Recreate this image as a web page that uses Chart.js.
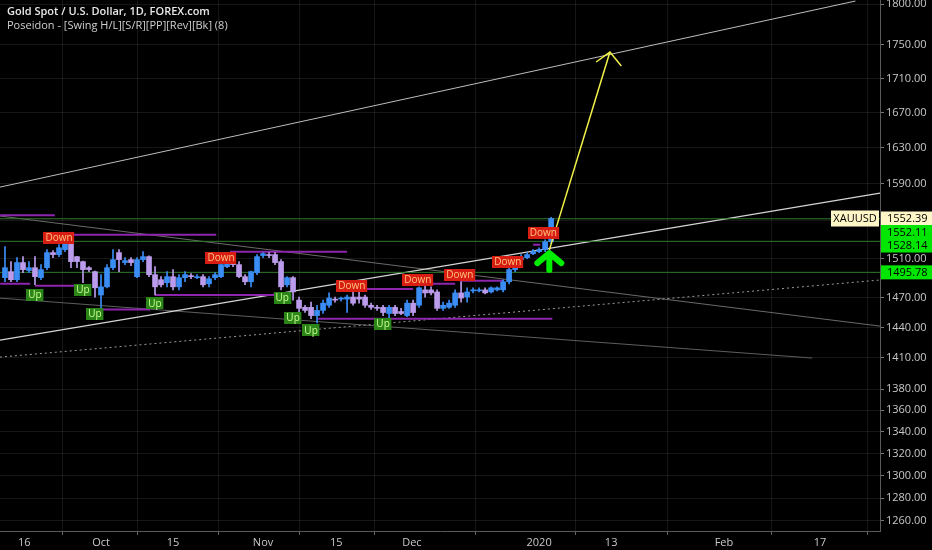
<!DOCTYPE html>
<html>
<head>
<meta charset="utf-8">
<script src="https://cdn.jsdelivr.net/npm/chart.js@4.4.1/dist/chart.umd.min.js"></script>
<style>
html, body { margin: 0; padding: 0; background: #000; }
#wrap { position: relative; width: 932px; height: 550px; }
#title { position: absolute; left: 7px; top: 4px; font-family: 'Open Sans', sans-serif; font-size: 11px; line-height: 14px; color: #e8e8e8; pointer-events: none; }
#title b { font-weight: 600; }
#title span { color: #cfcfcf; }
</style>
</head>
<body>
<div id="wrap">
  <canvas id="chart"></canvas>
  <div id="title"><b>Gold Spot / U.S. Dollar, 1D, FOREX.com</b><br><span>Poseidon - [Swing H/L][S/R][PP][Rev][Bk] (8)</span></div>
</div>
<script>
// daily bars, index 0 = mid Sep 2019, last = 3 Jan 2020
const opens = [1490.3,1496.5,1488.2,1505.9,1497.6,1500.6,1490.3,1500.6,1516.3,1514.2,
  1519.4,1531.9,1512.1,1506.9,1500.6,1496.5,1472.6,1480.9,1500.6,1516.3,
  1505.9,1509.0,1491.3,1509.0,1512.1,1493.4,1488.2,1485.1,1491.3,1480.9,
  1490.3,1492.4,1490.3,1491.3,1484.0,1490.3,1491.3,1501.7,1504.8,1503.8,
  1491.3,1486.1,1495.5,1513.2,1514.2,1514.2,1506.9,1483.0,1490.3,1467.4,
  1460.1,1460.1,1451.8,1457.0,1462.2,1468.4,1468.4,1468.4,1470.5,1470.5,
  1470.5,1462.2,1460.1,1460.1,1453.9,1460.1,1455.9,1451.8,1464.3,1462.2,
  1477.8,1477.8,1475.7,1459.1,1460.1,1462.2,1474.7,1470.5,1476.8,1476.8,
  1477.8,1475.7,1477.8,1477.8,1486.1,1498.6,1509.0,1511.0,1515.2,1517.3,
  1519.4,1527.7];
const highs = [1522.5,1506.9,1511.0,1512.1,1506.9,1512.1,1503.8,1519.4,1518.4,1524.6,
  1532.9,1535.0,1512.5,1507.5,1501.7,1497.0,1493.4,1503.8,1519.4,1519.4,
  1511.0,1511.0,1511.0,1517.3,1513.0,1501.7,1491.3,1496.5,1498.6,1493.4,
  1496.5,1494.4,1493.4,1493.4,1491.3,1495.5,1505.9,1511.0,1506.9,1506.9,
  1493.4,1497.0,1514.2,1516.3,1516.3,1516.3,1509.0,1491.3,1491.3,1470.5,
  1462.2,1465.3,1462.2,1467.4,1474.7,1470.5,1470.5,1472.6,1475.7,1475.7,
  1472.6,1464.3,1462.2,1462.2,1462.2,1462.2,1459.1,1467.4,1467.4,1480.9,
  1483.0,1480.9,1477.8,1465.3,1467.4,1477.8,1486.1,1479.9,1479.9,1479.9,
  1479.9,1480.9,1480.9,1488.2,1500.6,1512.1,1514.2,1516.3,1519.4,1521.4,
  1529.8,1553.6];
const lows = [1486.1,1486.1,1486.1,1495.5,1495.5,1483.0,1488.2,1498.6,1511.0,1512.1,
  1517.3,1500.6,1500.6,1485.1,1496.5,1470.5,1459.1,1479.9,1498.6,1496.5,
  1503.8,1502.8,1490.3,1506.9,1491.3,1472.6,1480.9,1480.9,1477.8,1477.8,
  1486.1,1489.2,1489.2,1480.9,1480.9,1488.2,1490.3,1500.6,1501.7,1490.3,
  1483.0,1480.9,1493.4,1511.0,1511.0,1503.8,1477.8,1480.9,1467.4,1454.9,
  1454.9,1448.7,1444.5,1453.9,1460.1,1465.3,1466.4,1454.9,1462.2,1464.3,
  1460.1,1458.0,1457.0,1451.8,1448.7,1451.8,1452.8,1450.8,1451.8,1460.1,
  1470.5,1472.6,1457.0,1457.0,1459.1,1460.1,1465.3,1465.3,1474.7,1475.7,
  1473.6,1474.7,1476.8,1475.7,1484.0,1496.5,1506.9,1510.0,1514.2,1516.3,
  1517.3,1525.6];
const closes = [1500.6,1488.2,1505.9,1498.6,1500.6,1491.3,1498.6,1516.3,1514.2,1521.4,
  1531.9,1506.9,1506.9,1498.6,1498.6,1479.9,1480.9,1500.6,1509.0,1509.0,
  1507.9,1505.9,1509.0,1512.1,1493.4,1480.9,1483.0,1491.3,1480.9,1490.3,
  1493.4,1491.3,1491.3,1483.0,1489.2,1493.4,1503.8,1505.9,1503.8,1491.3,
  1486.1,1496.5,1512.1,1515.2,1513.2,1505.9,1480.9,1490.3,1475.7,1459.1,
  1457.0,1451.8,1457.0,1464.3,1469.5,1467.4,1469.5,1470.5,1464.3,1468.4,
  1462.2,1460.1,1459.1,1454.9,1460.1,1453.9,1453.9,1464.3,1454.9,1479.9,
  1474.7,1474.7,1459.1,1462.2,1464.3,1474.7,1469.5,1475.7,1477.8,1477.8,
  1474.7,1479.9,1479.9,1486.1,1498.6,1511.0,1511.0,1514.2,1517.3,1519.4,
  1527.7,1552.4];

// axis ticks
const xTickPos = [3.2, 16, 28, 43, 55.2, 67.8, 89, 101, 119.8, 135.8];
const xTickText = ['16', 'Oct', '15', 'Nov', '15', 'Dec', '2020', '13', 'Feb', '17'];
const yTicks = [1260, 1280, 1300, 1320, 1340, 1360, 1380, 1410, 1440, 1470, 1510, 1550, 1590, 1630, 1670, 1710, 1750, 1800];

// drawn trend lines: [barIndex, price] pairs
const channelTop = [[-0.83, 1586.4], [141.7, 1803.7]];
const channelMid = [[-0.83, 1427.4], [145.8, 1579.8]];
const channelLow = [[-0.83, 1410.8], [145.8, 1487.9]];
const fallLine1 = [[-0.83, 1555.0], [145.8, 1441.3]];
const fallLine2 = [[-0.83, 1469.4], [134.5, 1409.9]];
const targetArrow = [[90.7, 1518.9], [100.8, 1741.3]];
const targetHead = [[98.5, 1729.4], [100.8, 1741.3], [102.7, 1724.6]];

// swing levels: [fromIndex, toIndex, price]
const swingLevels = [[-0.8, 8.3, 1555.8], [10, 35.2, 1535.0], [37.5, 57, 1517.3], [-0.8, 4.2, 1484.0],
  [5, 12, 1481.9], [15.8, 24.2, 1458.0], [25, 45.8, 1472.6], [59.2, 68, 1478.8],
  [69.7, 75, 1484.0], [75.8, 83, 1487.2], [52.2, 91.2, 1448.7], [88, 89.2, 1524.6]];
const greenLevels = [1552.11, 1528.14, 1495.78];
const lastPrice = 1552.39;
const symbol = 'XAUUSD';

// signal labels: [barIndex, price]
const upSignals = [[5, 1472.6], [13, 1477.8], [15, 1453.9], [25, 1464.3], [46.2, 1469.5], [48, 1449.7], [51, 1437.2], [63, 1443.5]];
const downSignals = [[9, 1531.9], [36, 1511.0], [57.8, 1481.9], [68.8, 1488.2], [75.8, 1493.4], [83.8, 1506.9], [89.7, 1537.1]];
const breakout = [90.7, 1518.9];

const BLUE = '#3a8df5', PURPLE = '#bb9cec';
const idx = closes.map((_, i) => i);
const candleColors = idx.map(i => closes[i] >= opens[i] ? BLUE : PURPLE);

function pts(arr) { return arr.map(p => ({ x: p[0], y: p[1] })); }
function segs(list) {
  const out = [];
  list.forEach(s => { out.push({ x: s[0], y: s[2] }, { x: s[1], y: s[2] }, { x: s[1], y: null }); });
  return out;
}
function lineDs(data, color, width, order, dash) {
  return { type: 'line', data: data, borderColor: color, borderWidth: width, borderDash: dash || [],
    pointRadius: 0, fill: false, tension: 0, spanGaps: false, order: order };
}
function noPad(s) { s.paddingTop = 0; s.paddingBottom = 0; s.paddingLeft = 0; s.paddingRight = 0; }

const X_MIN = -0.83, X_MAX = 145.8;

const overlay = {
  id: 'overlay',
  beforeDraw(chart) {
    const c = chart.ctx;
    c.save();
    c.fillStyle = '#000';
    c.fillRect(0, 0, chart.width, chart.height);
    c.restore();
  },
  afterDatasetsDraw(chart) {
    const c = chart.ctx, xs = chart.scales.x, ys = chart.scales.y;
    c.save();
    c.font = '10px "Open Sans", sans-serif';
    c.textAlign = 'center';
    c.textBaseline = 'middle';
    const tag = (p, text, bg, fg) => {
      const x = xs.getPixelForValue(p[0]), y = ys.getPixelForValue(p[1]);
      const w = c.measureText(text).width + 4, h = 12;
      c.fillStyle = bg;
      c.fillRect(Math.round(x - w / 2), Math.round(y - h / 2), w, h);
      c.fillStyle = fg;
      c.fillText(text, x, y + 0.5);
    };
    downSignals.forEach(p => tag(p, 'Down', '#d81d14', '#ffc37a'));
    upSignals.forEach(p => tag(p, 'Up', '#2b8519', '#c9ff8e'));

    // breakout arrow
    const ax = xs.getPixelForValue(breakout[0]), ay = ys.getPixelForValue(breakout[1]);
    c.strokeStyle = '#00ee00';
    c.lineWidth = 6;
    c.lineCap = 'round';
    c.lineJoin = 'round';
    c.beginPath();
    c.moveTo(ax - 12, ay + 13);
    c.lineTo(ax, ay + 3);
    c.lineTo(ax + 12, ay + 13);
    c.moveTo(ax, ay + 4);
    c.lineTo(ax, ay + 20);
    c.stroke();
    c.restore();
  },
  afterDraw(chart) {
    const c = chart.ctx, ys = chart.scales.y, area = chart.chartArea;
    c.save();
    c.font = '11px "Open Sans", sans-serif';
    c.textBaseline = 'middle';
    const list = [{ v: lastPrice, bg: '#fff6c8' }].concat(greenLevels.map(v => ({ v: v, bg: '#00e600' })));
    let prev = -100;
    list.forEach((t, k) => {
      let y = Math.max(ys.getPixelForValue(t.v), prev + 13.5);
      prev = y;
      c.fillStyle = t.bg;
      c.fillRect(area.right + 1, y - 7, chart.width - area.right, 14);
      c.fillStyle = '#000';
      c.textAlign = 'left';
      c.fillText(t.v.toFixed(2), area.right + 7, y + 0.5);
      if (k === 0) {
        c.fillStyle = t.bg;
        c.fillRect(area.right - 49, y - 8, 48, 16);
        c.fillStyle = '#000';
        c.textAlign = 'center';
        c.fillText(symbol, area.right - 25, y + 0.5);
      }
    });
    c.restore();
  }
};

const gridColor = 'rgba(255,255,255,0.085)';
const tickFont = { family: "'Open Sans', sans-serif", size: 11 };

new Chart(document.getElementById('chart'), {
  type: 'bar',
  data: {
    datasets: [
      { label: 'body', data: idx.map(i => ({ x: i, y: [opens[i], closes[i]] })), backgroundColor: candleColors,
        barThickness: 5, minBarLength: 1, grouped: false, order: 1 },
      { label: 'wick', data: idx.map(i => ({ x: i, y: [lows[i], highs[i]] })), backgroundColor: candleColors,
        barThickness: 1, grouped: false, order: 2 },
      lineDs(pts(targetArrow), '#f2f24a', 1.5, 0),
      lineDs(pts(targetHead), '#f2f24a', 1.5, 0),
      lineDs(segs(swingLevels), '#8e26ad', 2, 4),
      lineDs(segs(greenLevels.map(v => [X_MIN, X_MAX, v])), '#2f7a2a', 1, 6),
      lineDs(pts(channelTop), '#bdbdbd', 1, 7),
      lineDs(pts(channelMid), '#d6d6d6', 1.2, 7),
      lineDs(pts(channelLow), '#9a9a9a', 1, 7, [2, 3]),
      lineDs(pts(fallLine1), '#6a6a6a', 1, 8),
      lineDs(pts(fallLine2), '#5e5e5e', 1, 8)
    ]
  },
  options: {
    responsive: true,
    maintainAspectRatio: false,
    animation: false,
    layout: { padding: 0 },
    plugins: { legend: { display: false }, tooltip: { enabled: false } },
    scales: {
      x: {
        type: 'linear', min: X_MIN, max: X_MAX, offset: false,
        afterBuildTicks: s => { s.ticks = xTickPos.map(v => ({ value: v })); },
        afterFit: s => { s.height = 19; noPad(s); },
        ticks: { autoSkip: false, maxRotation: 0, padding: 1, color: '#c8c8c8', font: tickFont,
          callback: (v, i) => xTickText[i] },
        grid: { color: gridColor, tickLength: 4, tickColor: '#666' },
        border: { color: '#5a5a5a' }
      },
      y: {
        type: 'logarithmic', position: 'right', min: 1251.3, max: 1805,
        afterBuildTicks: s => { s.ticks = yTicks.map(v => ({ value: v })); },
        afterFit: s => { s.width = 52; noPad(s); },
        ticks: { autoSkip: false, padding: 2, color: '#c8c8c8', font: tickFont,
          callback: v => Number(v).toFixed(2) },
        grid: { color: gridColor, tickLength: 4, tickColor: '#777' },
        border: { color: '#5a5a5a' }
      }
    }
  },
  plugins: [overlay]
});
</script>
</body>
</html>
